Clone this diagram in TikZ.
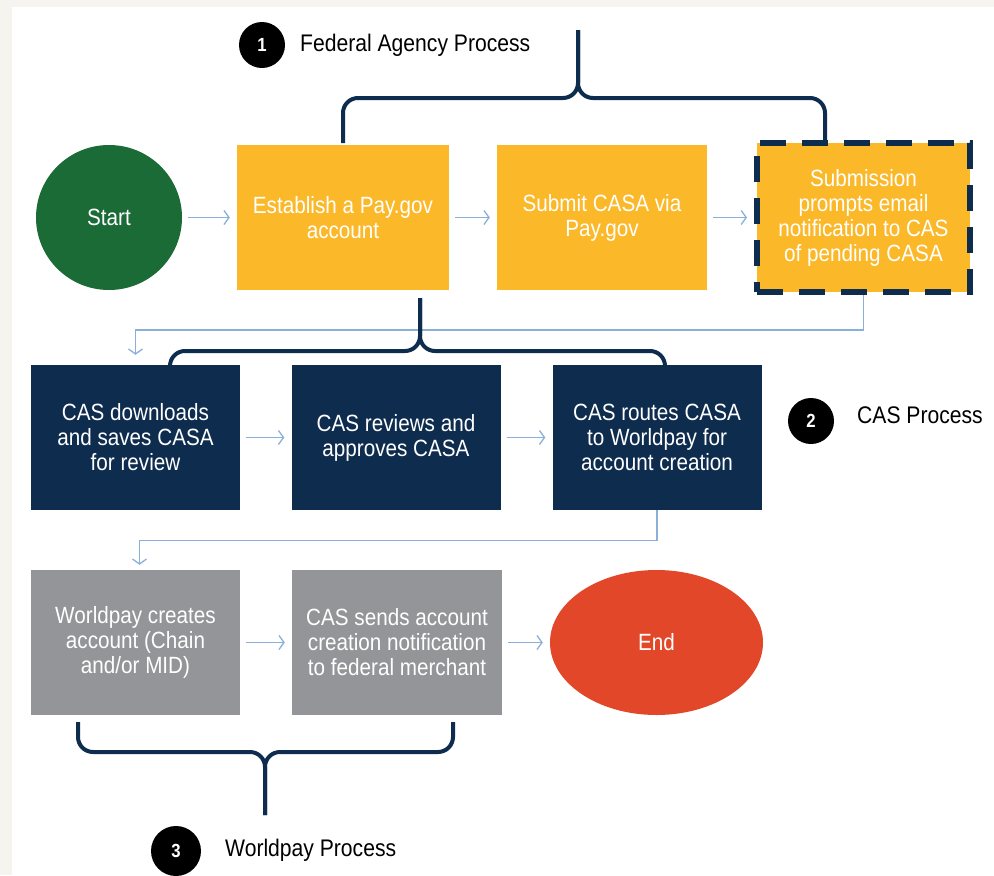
\documentclass[tikz,border=0pt]{standalone}
\usepackage{fontspec}
\setmainfont[FakeStretch=0.88]{Liberation Sans}
\usetikzlibrary{arrows.meta, shapes.geometric}
\definecolor{cascream}{HTML}{F6F4EF}
\definecolor{casyellow}{HTML}{FBB829}
\definecolor{casnavy}{HTML}{0E2C4E}
\definecolor{casgray}{HTML}{939598}
\definecolor{casgreen}{HTML}{1B6B37}
\definecolor{casred}{HTML}{E2472A}
\definecolor{casblue}{HTML}{8AB0DA}

\begin{document}
\begin{tikzpicture}[x=1pt, y=-1pt,
  box/.style={rectangle, minimum width=209pt, minimum height=145pt, inner sep=0pt,
              align=center, text=white, font=\fontsize{23.5}{25}\selectfont},
  flow/.style={-{Straight Barb[length=5pt,width=14pt]}, casblue, line width=1.3pt},
  brace/.style={draw=casnavy, line width=4pt, rounded corners=15pt},
  badge/.style={circle, fill=black, text=white, minimum size=46pt, inner sep=0pt,
                font=\bfseries\fontsize{19}{19}\selectfont},
  tag/.style={anchor=west, inner sep=0pt, font=\fontsize{24}{24}\selectfont}]
  % page
  \fill[cascream] (0,0) rectangle (994,875);
  \fill[white] (12,7) rectangle (994,875);
  % row 1: federal agency
  \node[ellipse, fill=casgreen, minimum width=146pt, minimum height=145pt, text=white,
        font=\fontsize{23.5}{25}\selectfont] (start) at (109,217.5) {Start};
  \node[box, fill=casyellow, minimum width=212pt] (est) at (343,217.5) {Establish a Pay.gov\\account};
  \node[box, fill=casyellow, minimum width=210pt] (sub) at (602,217.5) {Submit CASA via\\Pay.gov};
  \node[box, fill=casyellow, minimum width=213pt, minimum height=149pt, draw=casnavy,
        line width=6pt, dash pattern=on 26pt off 16pt] (note) at (863.5,217.5)
        {Submission\\prompts email\\notification to CAS\\of pending CASA};
  % row 2: CAS
  \node[box, fill=casnavy] (dl) at (135.5,437.5) {CAS downloads\\and saves CASA\\for review};
  \node[box, fill=casnavy] (rev) at (396,437.5) {CAS reviews and\\approves CASA};
  \node[box, fill=casnavy] (route) at (657,437.5) {CAS routes CASA\\to Worldpay for\\account creation};
  % row 3: worldpay
  \node[box, fill=casgray] (wp) at (135.5,642.5) {Worldpay creates\\account (Chain\\and/or MID)};
  \node[box, fill=casgray, minimum width=210pt] (notify) at (397,642.5)
        {CAS sends account\\creation notification\\to federal merchant};
  \node[ellipse, fill=casred, minimum width=213pt, minimum height=145pt, text=white,
        font=\fontsize{23.5}{25}\selectfont] (stop) at (656.5,642.5) {End};
  % arrows
  \foreach \a/\b in {start/est, est/sub, sub/note, dl/rev, rev/route, wp/notify, notify/stop}
    \draw[flow, shorten <=6pt, shorten >=7pt] (\a) -- (\b);
  \draw[flow, shorten >=10pt] (note.south) -- ++(0,35) -| (dl.north);
  \draw[flow, shorten >=5pt] (route.south) -- ++(0,30) -| ([xshift=4pt]wp.north);
  % braces
  \draw[brace] (343,143) -- (343,98) -- (578,98) -- (578,30);
  \draw[brace] (825,141) -- (825,98) -- (578,98) -- (578,30);
  \draw[brace] (170,366) -- (170,351) -- (420,351) -- (420,298);
  \draw[brace] (665,366) -- (665,351) -- (420,351) -- (420,298);
  \draw[brace] (78,722) -- (78,752) -- (265,752) -- (265,815);
  \draw[brace] (453,722) -- (453,752) -- (265,752) -- (265,815);
  % process labels
  \node[badge] (b1) at (262,45) {1};
  \node[tag] (t1) at (300,45) {Federal Agency Process};
  \node[badge] (b2) at (811,421) {2};
  \node[tag] (t2) at (857,415) {CAS Process};
  \node[badge, minimum size=50pt] (b3) at (176,851) {3};
  \node[tag] (t3) at (225,850) {Worldpay Process};
\end{tikzpicture}
\end{document}
